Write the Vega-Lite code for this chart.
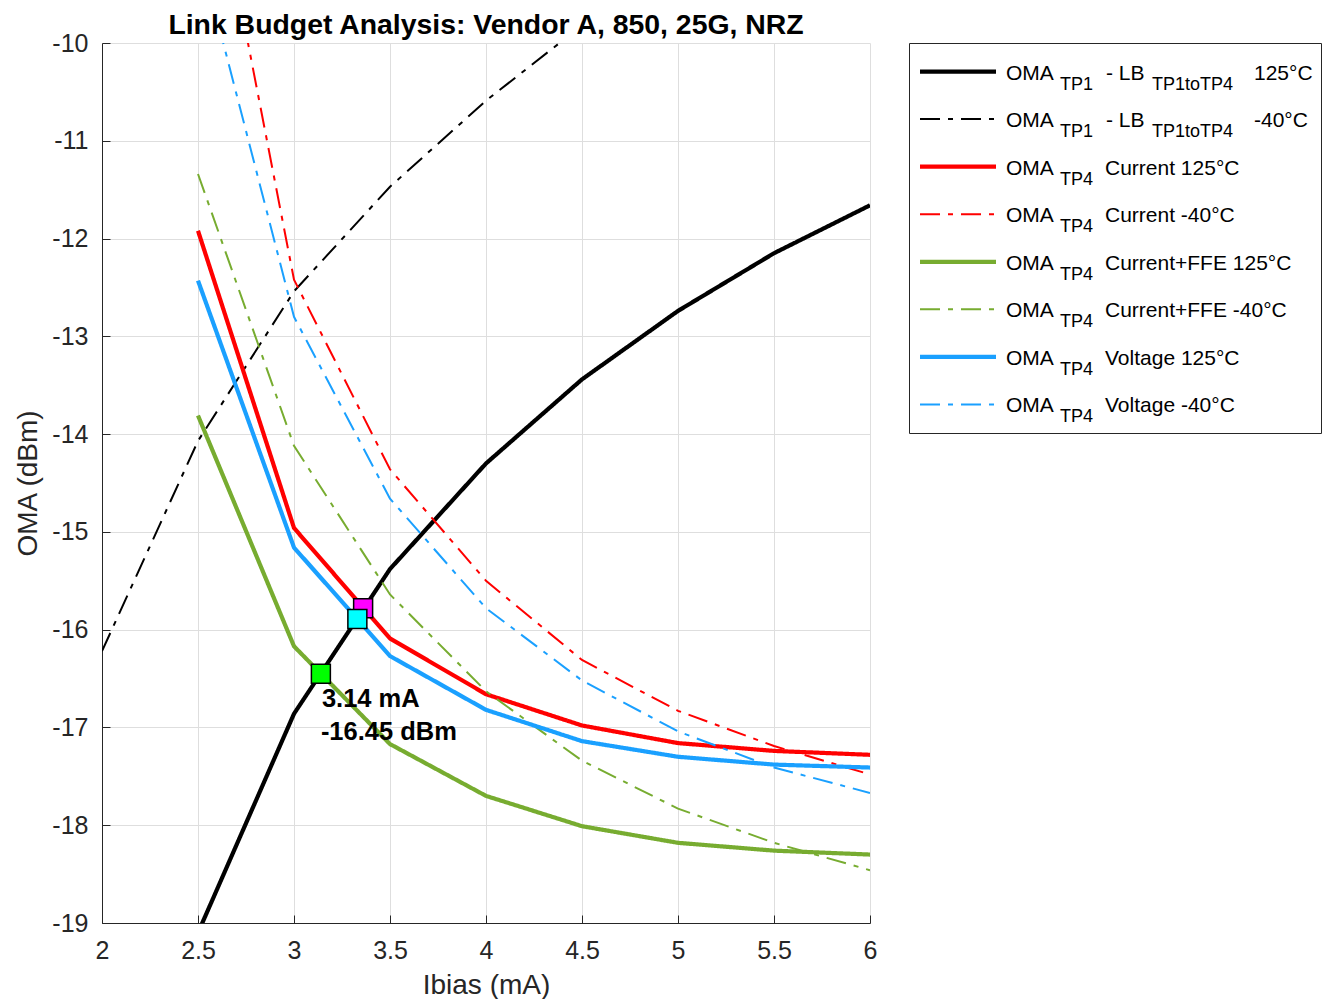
{
  "$schema": "https://vega.github.io/schema/vega-lite/v6.json",
  "background": "white",
  "padding": {"left": 14, "top": 10, "right": 0, "bottom": 0},
  "bounds": "flush",
  "spacing": 39,
  "datasets": {
    "curves": [
      {"family": "LB", "temp": 125, "ibias": 2.5, "oma": -19.1},
      {"family": "LB", "temp": 125, "ibias": 3.0, "oma": -16.86},
      {"family": "LB", "temp": 125, "ibias": 3.5, "oma": -15.38},
      {"family": "LB", "temp": 125, "ibias": 4.0, "oma": -14.30},
      {"family": "LB", "temp": 125, "ibias": 4.5, "oma": -13.44},
      {"family": "LB", "temp": 125, "ibias": 5.0, "oma": -12.74},
      {"family": "LB", "temp": 125, "ibias": 5.5, "oma": -12.15},
      {"family": "LB", "temp": 125, "ibias": 6.0, "oma": -11.66},
      {"family": "LB", "temp": -40, "ibias": 2.0, "oma": -16.22},
      {"family": "LB", "temp": -40, "ibias": 2.5, "oma": -14.07},
      {"family": "LB", "temp": -40, "ibias": 3.0, "oma": -12.54},
      {"family": "LB", "temp": -40, "ibias": 3.5, "oma": -11.47},
      {"family": "LB", "temp": -40, "ibias": 4.0, "oma": -10.59},
      {"family": "LB", "temp": -40, "ibias": 4.5, "oma": -9.82},
      {"family": "Current", "temp": 125, "ibias": 2.5, "oma": -11.92},
      {"family": "Current", "temp": 125, "ibias": 3.0, "oma": -14.96},
      {"family": "Current", "temp": 125, "ibias": 3.5, "oma": -16.09},
      {"family": "Current", "temp": 125, "ibias": 4.0, "oma": -16.66},
      {"family": "Current", "temp": 125, "ibias": 4.5, "oma": -16.98},
      {"family": "Current", "temp": 125, "ibias": 5.0, "oma": -17.16},
      {"family": "Current", "temp": 125, "ibias": 5.5, "oma": -17.24},
      {"family": "Current", "temp": 125, "ibias": 6.0, "oma": -17.28},
      {"family": "Current", "temp": -40, "ibias": 2.5, "oma": -7.37},
      {"family": "Current", "temp": -40, "ibias": 3.0, "oma": -12.42},
      {"family": "Current", "temp": -40, "ibias": 3.5, "oma": -14.36},
      {"family": "Current", "temp": -40, "ibias": 4.0, "oma": -15.50},
      {"family": "Current", "temp": -40, "ibias": 4.5, "oma": -16.31},
      {"family": "Current", "temp": -40, "ibias": 5.0, "oma": -16.83},
      {"family": "Current", "temp": -40, "ibias": 5.5, "oma": -17.19},
      {"family": "Current", "temp": -40, "ibias": 6.0, "oma": -17.48},
      {"family": "Current+FFE", "temp": 125, "ibias": 2.5, "oma": -13.81},
      {"family": "Current+FFE", "temp": 125, "ibias": 3.0, "oma": -16.17},
      {"family": "Current+FFE", "temp": 125, "ibias": 3.5, "oma": -17.17},
      {"family": "Current+FFE", "temp": 125, "ibias": 4.0, "oma": -17.70},
      {"family": "Current+FFE", "temp": 125, "ibias": 4.5, "oma": -18.01},
      {"family": "Current+FFE", "temp": 125, "ibias": 5.0, "oma": -18.18},
      {"family": "Current+FFE", "temp": 125, "ibias": 5.5, "oma": -18.26},
      {"family": "Current+FFE", "temp": 125, "ibias": 6.0, "oma": -18.30},
      {"family": "Current+FFE", "temp": -40, "ibias": 2.5, "oma": -11.34},
      {"family": "Current+FFE", "temp": -40, "ibias": 3.0, "oma": -14.12},
      {"family": "Current+FFE", "temp": -40, "ibias": 3.5, "oma": -15.64},
      {"family": "Current+FFE", "temp": -40, "ibias": 4.0, "oma": -16.63},
      {"family": "Current+FFE", "temp": -40, "ibias": 4.5, "oma": -17.34},
      {"family": "Current+FFE", "temp": -40, "ibias": 5.0, "oma": -17.83},
      {"family": "Current+FFE", "temp": -40, "ibias": 5.5, "oma": -18.18},
      {"family": "Current+FFE", "temp": -40, "ibias": 6.0, "oma": -18.46},
      {"family": "Voltage", "temp": 125, "ibias": 2.5, "oma": -12.43},
      {"family": "Voltage", "temp": 125, "ibias": 3.0, "oma": -15.16},
      {"family": "Voltage", "temp": 125, "ibias": 3.5, "oma": -16.27},
      {"family": "Voltage", "temp": 125, "ibias": 4.0, "oma": -16.82},
      {"family": "Voltage", "temp": 125, "ibias": 4.5, "oma": -17.14},
      {"family": "Voltage", "temp": 125, "ibias": 5.0, "oma": -17.30},
      {"family": "Voltage", "temp": 125, "ibias": 5.5, "oma": -17.38},
      {"family": "Voltage", "temp": 125, "ibias": 6.0, "oma": -17.41},
      {"family": "Voltage", "temp": -40, "ibias": 2.5, "oma": -9.0},
      {"family": "Voltage", "temp": -40, "ibias": 3.0, "oma": -12.8},
      {"family": "Voltage", "temp": -40, "ibias": 3.5, "oma": -14.66},
      {"family": "Voltage", "temp": -40, "ibias": 4.0, "oma": -15.78},
      {"family": "Voltage", "temp": -40, "ibias": 4.5, "oma": -16.52},
      {"family": "Voltage", "temp": -40, "ibias": 5.0, "oma": -17.04},
      {"family": "Voltage", "temp": -40, "ibias": 5.5, "oma": -17.41},
      {"family": "Voltage", "temp": -40, "ibias": 6.0, "oma": -17.67}
    ],
    "crossings": [
      {"family": "Current", "ibias": 3.36, "oma": -15.78},
      {"family": "Voltage", "ibias": 3.33, "oma": -15.89},
      {"family": "Current+FFE", "ibias": 3.14, "oma": -16.45}
    ],
    "legendRows": [
      {"key": "LB 125", "family": "LB", "temp": 125, "sub": "TP1", "desc": "125°C"},
      {"key": "LB -40", "family": "LB", "temp": -40, "sub": "TP1", "desc": "-40°C"},
      {"key": "Current 125", "family": "Current", "temp": 125, "sub": "TP4", "desc": "Current 125°C"},
      {"key": "Current -40", "family": "Current", "temp": -40, "sub": "TP4", "desc": "Current -40°C"},
      {"key": "Current+FFE 125", "family": "Current+FFE", "temp": 125, "sub": "TP4", "desc": "Current+FFE 125°C"},
      {"key": "Current+FFE -40", "family": "Current+FFE", "temp": -40, "sub": "TP4", "desc": "Current+FFE -40°C"},
      {"key": "Voltage 125", "family": "Voltage", "temp": 125, "sub": "TP4", "desc": "Voltage 125°C"},
      {"key": "Voltage -40", "family": "Voltage", "temp": -40, "sub": "TP4", "desc": "Voltage -40°C"}
    ]
  },
  "config": {
    "font": "Liberation Sans",
    "view": {"stroke": null},
    "axis": {
      "labelFont": "Liberation Sans",
      "labelFontSize": 25,
      "labelColor": "#262626",
      "titleFont": "Liberation Sans",
      "titleFontSize": 28,
      "titleFontWeight": "normal",
      "titleColor": "#262626",
      "domainColor": "#262626",
      "domainWidth": 1,
      "tickColor": "#262626",
      "tickWidth": 1,
      "tickSize": -8,
      "gridColor": "#dedede",
      "gridWidth": 1,
      "labelFlush": false,
      "labelOverlap": false
    }
  },
  "hconcat": [
    {
      "width": 768,
      "height": 880,
      "title": {
        "text": "Link Budget Analysis: Vendor A, 850, 25G, NRZ",
        "font": "Liberation Sans",
        "fontSize": 28.4,
        "fontWeight": "bold",
        "color": "#000000",
        "frame": "group",
        "anchor": "middle",
        "offset": -9
      },
      "layer": [
        {
          "data": {"name": "curves"},
          "mark": {"type": "line", "clip": true, "strokeCap": "butt", "strokeJoin": "miter"},
          "encoding": {
            "x": {
              "field": "ibias",
              "type": "quantitative",
              "scale": {"domain": [2, 6], "nice": false, "zero": false},
              "axis": {
                "title": "Ibias (mA)",
                "values": [2, 2.5, 3, 3.5, 4, 4.5, 5, 5.5, 6],
                "labelExpr": "'' + datum.value",
                "labelPadding": 23,
                "titlePadding": 8
              }
            },
            "y": {
              "field": "oma",
              "type": "quantitative",
              "scale": {"domain": [-19, -10], "nice": false, "zero": false},
              "axis": {
                "title": "OMA (dBm)",
                "values": [-19, -18, -17, -16, -15, -14, -13, -12, -11, -10],
                "labelExpr": "'' + datum.value",
                "labelPadding": 22,
                "titlePadding": 9
              }
            },
            "color": {
              "field": "family",
              "type": "nominal",
              "scale": {
                "domain": ["LB", "Current", "Current+FFE", "Voltage"],
                "range": ["#000000", "#ff0000", "#77ac30", "#1aa0ff"]
              },
              "legend": null
            },
            "strokeDash": {
              "field": "temp",
              "type": "nominal",
              "scale": {"domain": [125, -40], "range": [[1, 0], [20, 8, 5, 8]]},
              "legend": null
            },
            "strokeWidth": {
              "field": "temp",
              "type": "quantitative",
              "scale": {"domain": [-40, 125], "range": [2, 4.2]},
              "legend": null
            }
          }
        },
        {
          "data": {"name": "crossings"},
          "mark": {"type": "point", "shape": "square", "filled": true, "size": 360, "stroke": "#000000", "strokeWidth": 1.5, "opacity": 1},
          "encoding": {
            "x": {"field": "ibias", "type": "quantitative"},
            "y": {"field": "oma", "type": "quantitative"},
            "fill": {
              "field": "family",
              "type": "nominal",
              "scale": {
                "domain": ["Current", "Voltage", "Current+FFE"],
                "range": ["#ff00ff", "#00ffff", "#00ff00"]
              },
              "legend": null
            }
          }
        },
        {
          "data": {"name": "crossings"},
          "transform": [
            {"filter": "datum.family == 'Current+FFE'"},
            {"calculate": "format(datum.ibias, '.2f') + ' mA'", "as": "ibiasLabel"}
          ],
          "mark": {"type": "text", "align": "left", "baseline": "middle", "font": "Liberation Sans", "fontSize": 25.5, "fontWeight": "bold", "color": "#000000", "dx": 1, "dy": 25},
          "encoding": {
            "x": {"field": "ibias", "type": "quantitative"},
            "y": {"field": "oma", "type": "quantitative"},
            "text": {"field": "ibiasLabel"}
          }
        },
        {
          "data": {"name": "crossings"},
          "transform": [
            {"filter": "datum.family == 'Current+FFE'"},
            {"calculate": "replace(format(datum.oma, '.2f'), '\u2212', '-') + ' dBm'", "as": "omaLabel"}
          ],
          "mark": {"type": "text", "align": "left", "baseline": "middle", "font": "Liberation Sans", "fontSize": 25.5, "fontWeight": "bold", "color": "#000000", "dx": 0, "dy": 58},
          "encoding": {
            "x": {"field": "ibias", "type": "quantitative"},
            "y": {"field": "oma", "type": "quantitative"},
            "text": {"field": "omaLabel"}
          }
        }
      ]
    },
    {
      "width": 412,
      "height": 390,
      "view": {"stroke": "#262626", "strokeWidth": 1, "fill": "white"},
      "data": {"name": "legendRows"},
      "encoding": {
        "y": {"field": "key", "type": "ordinal", "sort": null, "scale": {"type": "point", "padding": 0.6}, "axis": null}
      },
      "layer": [
        {
          "mark": {"type": "rule", "strokeCap": "butt"},
          "encoding": {
            "x": {"value": 11},
            "x2": {"value": 87},
            "color": {
              "field": "family",
              "type": "nominal",
              "scale": {
                "domain": ["LB", "Current", "Current+FFE", "Voltage"],
                "range": ["#000000", "#ff0000", "#77ac30", "#1aa0ff"]
              },
              "legend": null
            },
            "strokeDash": {
              "field": "temp",
              "type": "nominal",
              "scale": {"domain": [125, -40], "range": [[1, 0], [20, 8, 5, 8]]},
              "legend": null
            },
            "strokeWidth": {
              "field": "temp",
              "type": "quantitative",
              "scale": {"domain": [-40, 125], "range": [2, 4.5]},
              "legend": null
            }
          }
        },
        {
          "mark": {"type": "text", "text": "OMA", "align": "left", "baseline": "middle", "fontSize": 21, "color": "#000000", "dy": 2},
          "encoding": {"x": {"value": 97}}
        },
        {
          "mark": {"type": "text", "align": "left", "baseline": "middle", "fontSize": 18, "color": "#000000", "dy": 13},
          "encoding": {"x": {"value": 151}, "text": {"field": "sub"}}
        },
        {
          "transform": [{"filter": "datum.family != 'LB'"}],
          "mark": {"type": "text", "align": "left", "baseline": "middle", "fontSize": 21, "color": "#000000", "dy": 2},
          "encoding": {"x": {"value": 196}, "text": {"field": "desc"}}
        },
        {
          "transform": [{"filter": "datum.family == 'LB'"}],
          "mark": {"type": "text", "text": "- LB", "align": "left", "baseline": "middle", "fontSize": 21, "color": "#000000", "dy": 2},
          "encoding": {"x": {"value": 197}}
        },
        {
          "transform": [{"filter": "datum.family == 'LB'"}],
          "mark": {"type": "text", "text": "TP1toTP4", "align": "left", "baseline": "middle", "fontSize": 18, "color": "#000000", "dy": 13},
          "encoding": {"x": {"value": 243}}
        },
        {
          "transform": [{"filter": "datum.family == 'LB'"}],
          "mark": {"type": "text", "align": "left", "baseline": "middle", "fontSize": 21, "color": "#000000", "dy": 2},
          "encoding": {"x": {"value": 345}, "text": {"field": "desc"}}
        }
      ]
    }
  ]
}
